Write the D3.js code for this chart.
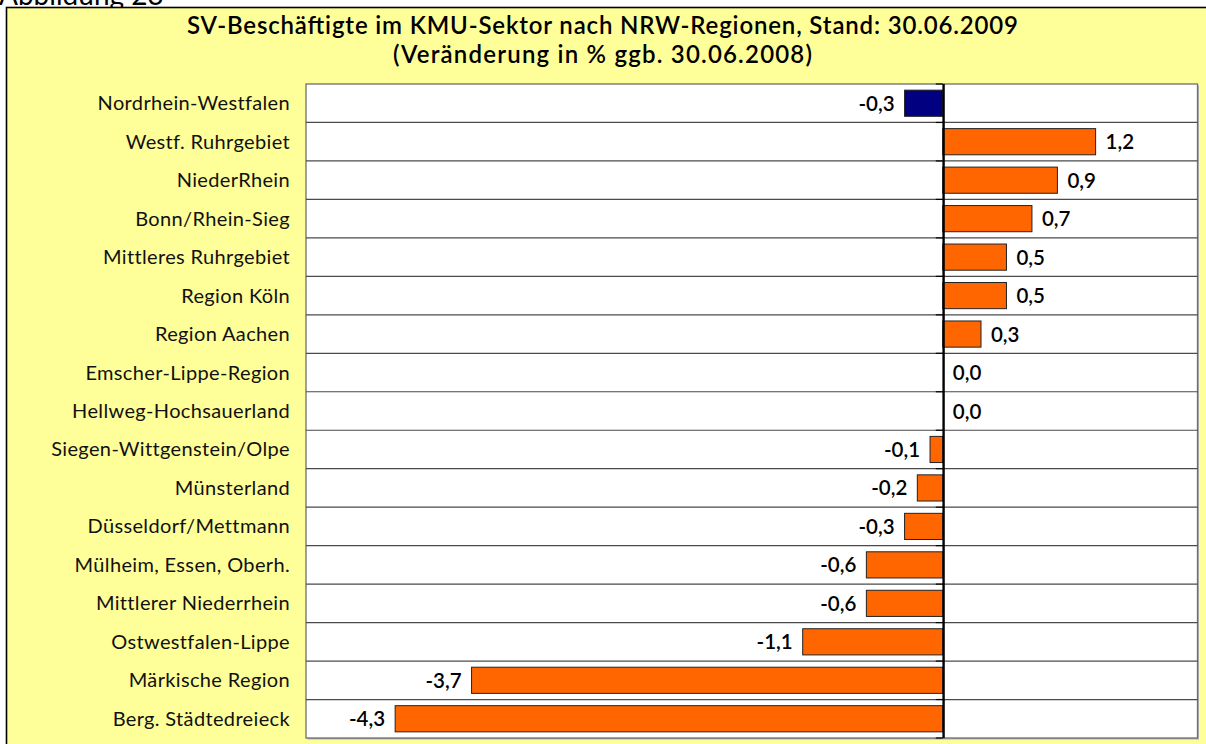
<!DOCTYPE html>
<html>
<head>
<meta charset="utf-8">
<script src="https://cdn.jsdelivr.net/npm/d3@7"></script>
<style>
  html, body { margin: 0; padding: 0; background: #ffffff; }
  svg { display: block; }
  text { font-family: Lato, "Open Sans", sans-serif; }
</style>
</head>
<body>
<svg id="chart" width="1206" height="744"></svg>
<script>
// ---- data ----
const categories = [
  "Nordrhein-Westfalen",
  "Westf. Ruhrgebiet",
  "NiederRhein",
  "Bonn/Rhein-Sieg",
  "Mittleres Ruhrgebiet",
  "Region Köln",
  "Region Aachen",
  "Emscher-Lippe-Region",
  "Hellweg-Hochsauerland",
  "Siegen-Wittgenstein/Olpe",
  "Münsterland",
  "Düsseldorf/Mettmann",
  "Mülheim, Essen, Oberh.",
  "Mittlerer Niederrhein",
  "Ostwestfalen-Lippe",
  "Märkische Region",
  "Berg. Städtedreieck"
];
const values = [-0.3, 1.2, 0.9, 0.7, 0.5, 0.5, 0.3, 0.0, 0.0, -0.1, -0.2, -0.3, -0.6, -0.6, -1.1, -3.7, -4.3];
const highlighted = ["Nordrhein-Westfalen"];
const axisDomain = [-5, 2];
const titleLines = [
  "SV-Beschäftigte im KMU-Sektor nach NRW-Regionen, Stand: 30.06.2009",
  "(Veränderung in % ggb. 30.06.2008)"
];
const caption = "Abbildung 23";

// ---- layout ----
const W = 1206, H = 744;
const plot = { left: 306, top: 84, right: 1197.5, bottom: 738 };
const titleWidths = [831, 419];
const svg = d3.select("#chart");

const de = d3.formatLocale({ decimal: ",", thousands: ".", grouping: [3], currency: ["", " €"], minus: "-" });
const fmt = de.format(".1f");

const x = d3.scaleLinear().domain(axisDomain).range([plot.left, plot.right]);
const y = d3.scaleBand().domain(categories).range([plot.top, plot.bottom])
  .paddingInner(0.32).paddingOuter(0.16);
const step = y.step();

svg.append("rect").attr("x", 0).attr("y", 0).attr("width", W).attr("height", H).attr("fill", "#ffffff");

// caption, cut off at the top (as in the reference)
svg.append("text").attr("x", -1).attr("y", 5)
  .attr("font-size", 28).attr("fill", "#000").text(caption);

// yellow frame
svg.append("rect").attr("x", 6.5).attr("y", 7.5).attr("width", W + 20).attr("height", H + 20)
  .attr("fill", "#FFFF99").attr("stroke", "#000").attr("stroke-width", 1.6);

// plot area shadow + background
svg.append("rect").attr("x", plot.left + 1.5).attr("y", plot.top + 1.5)
  .attr("width", plot.right - plot.left).attr("height", plot.bottom - plot.top)
  .attr("fill", "#b0b0b0");
svg.append("rect").attr("x", plot.left).attr("y", plot.top)
  .attr("width", plot.right - plot.left).attr("height", plot.bottom - plot.top)
  .attr("fill", "#ffffff").attr("stroke", "#6e6e6e").attr("stroke-width", 1.3);

// gridlines at category boundaries
const boundaries = categories.slice(1).map(c => y(c) - (y.paddingInner() * step) / 2);
svg.append("g").selectAll("line").data(boundaries).join("line")
  .attr("x1", plot.left).attr("x2", plot.right)
  .attr("y1", d => d).attr("y2", d => d)
  .attr("stroke", "#4a4a4a").attr("stroke-width", 1.2);

// bars
svg.append("g").selectAll("rect").data(categories).join("rect")
  .attr("x", (c, i) => x(Math.min(0, values[i])))
  .attr("y", c => y(c))
  .attr("width", (c, i) => Math.abs(x(values[i]) - x(0)))
  .attr("height", y.bandwidth())
  .attr("fill", c => highlighted.includes(c) ? "#000080" : "#FF6600")
  .attr("stroke", "#222")
  .attr("stroke-width", (c, i) => values[i] === 0 ? 0 : 1);

// zero axis with tick marks
const axisG = svg.append("g");
axisG.append("line")
  .attr("x1", x(0) + 0.8).attr("x2", x(0) + 0.8)
  .attr("y1", plot.top).attr("y2", plot.bottom)
  .attr("stroke", "#000").attr("stroke-width", 2.4);
axisG.selectAll("line.tick").data([plot.top].concat(boundaries, [plot.bottom])).join("line")
  .attr("class", "tick")
  .attr("x1", x(0) - 7).attr("x2", x(0))
  .attr("y1", d => d).attr("y2", d => d)
  .attr("stroke", "#000").attr("stroke-width", 1.2);

// category labels
svg.append("g").selectAll("text").data(categories).join("text")
  .attr("x", 290)
  .attr("y", c => y(c) + y.bandwidth() / 2 + 7)
  .attr("text-anchor", "end")
  .attr("font-size", 20)
  .attr("letter-spacing", 0.35)
  .attr("fill", "#111")
  .text(c => c);

// value labels
svg.append("g").selectAll("text").data(categories).join("text")
  .attr("x", (c, i) => values[i] < 0 ? x(values[i]) - 10 : x(values[i]) + 10)
  .attr("y", c => y(c) + y.bandwidth() / 2 + 7.5)
  .attr("text-anchor", (c, i) => values[i] < 0 ? "end" : "start")
  .attr("font-size", 20.5)
  .attr("font-weight", 600)
  .attr("fill", "#000")
  .text((c, i) => fmt(values[i]));

// title
svg.append("g").selectAll("text").data(titleLines).join("text")
  .attr("x", 602.5)
  .attr("y", (d, i) => 34 + i * 28.5)
  .attr("text-anchor", "middle")
  .attr("font-size", 24)
  .attr("font-weight", 600)
  .attr("textLength", (d, i) => titleWidths[i])
  .attr("lengthAdjust", "spacing")
  .attr("fill", "#000")
  .text(d => d);
</script>
</body>
</html>
